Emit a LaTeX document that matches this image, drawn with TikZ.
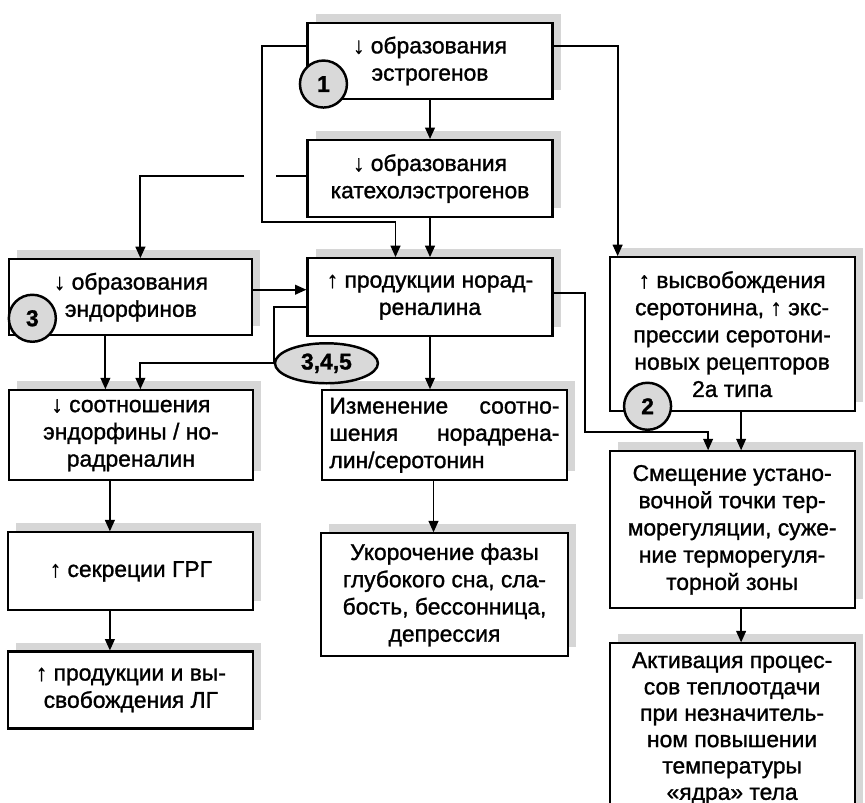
\documentclass[tikz,border=0pt]{standalone}
\usepackage{fontspec}
\setmainfont[FakeBold=1.2]{Liberation Sans}
\usepackage{tikz}
\usetikzlibrary{shapes,arrows,arrows.meta}
\usetikzlibrary{positioning,shadows}
\tikzstyle{block} = [draw, rectangle, fill=white, line width=1.2pt, inner sep=2pt,
    minimum width=4.9cm, align=center, font=\fontsize{13}{15.5}\selectfont,
    drop shadow={shadow xshift=0.16cm, shadow yshift=0.18cm, fill=black!20, opacity=0.8}]
\tikzstyle{num} = [draw, circle, fill=black!15, line width=1.4pt, minimum size=0.94cm,
    inner sep=0pt, font=\fontsize{13}{14}\selectfont\bfseries]
\tikzstyle{oval} = [draw, ellipse, fill=black!15, line width=1.4pt, minimum width=2.06cm,
    minimum height=0.8cm, inner sep=0pt, font=\fontsize{13}{14}\selectfont\bfseries]
\tikzstyle{wire} = [line width=1.1pt]
\tikzstyle{link} = [wire, -{Triangle[length=6.5pt,width=5.5pt]}]

\begin{document}
\begin{tikzpicture}[node distance = 1cm, auto]
  \useasboundingbox (0,0) rectangle (17.3,-16.06);
  \clip (0,0) rectangle (17.3,-16.06);
  \node [block, minimum height=1.52cm] at (8.6,-1.22) (b11) {↓ образования\\эстрогенов};
  \node [block, below=0.78cm of b11, minimum height=1.54cm] (b21) {↓ образования\\катехолэстрогенов};
  \node [block, below=0.78cm of b21, minimum height=1.56cm] (b32) {↑ продукции норад-\\реналина};
  \node [block, left=1.06cm of b32, minimum height=1.52cm, minimum width=4.86cm] (b31) {↓ образования\\эндорфинов};
  \node [block, right=1.1cm of b32, yshift=-0.74cm, minimum height=3.08cm] (b33)
    {↑ высвобождения\\серотонина, ↑ экс-\\прессии серотони-\\новых рецепторов\\2а типа};
  \node [block, below=1.06cm of b31, minimum height=1.8cm, minimum width=4.88cm] (b41)
    {↓ соотношения\\эндорфины / но-\\радреналин};
  \node [block, right=1.34cm of b41, minimum height=1.8cm, text width=4.6cm, align=left] (b42)
    {Изменение\hfill соотно-\\шения\hfill норадрена-\\лин/серотонин};
  \node [block, below=1.0cm of b41, minimum height=1.56cm] (b51) {↑ секреции ГРГ};
  \node [block, below=0.78cm of b51, minimum height=1.54cm] (b61) {↑ продукции и вы-\\свобождения ЛГ};
  \node [block, below=1.02cm of b42, minimum height=2.46cm, minimum width=4.94cm] (b52)
    {Укорочение фазы\\глубокого сна, сла-\\бость, бессонница,\\депрессия};
  \node [block, below=0.76cm of b33, minimum height=3.14cm] (b43)
    {Смещение устано-\\вочной точки тер-\\морегуляции, суже-\\ние терморегуля-\\торной зоны};
  \node [block, below=0.66cm of b43, minimum height=3.4cm, inner ysep=1.5pt,
    font=\fontsize{13}{15}\selectfont] (b53)
    {Активация процес-\\сов теплоотдачи\\при незначитель-\\ном повышении\\температуры\\«ядра» тела};

  \node [num] at ([xshift=0.34cm, yshift=0.32cm]b11.south west) (n1) {1};
  \node [num] at ([xshift=0.78cm, yshift=0.12cm]b33.south west) (n2) {2};
  \node [num] at ([xshift=0.48cm, yshift=0.36cm]b31.south west) (n3) {3};
  \node [oval] at ([xshift=0.4cm, yshift=-0.52cm]b32.south west) (n345) {3,4,5};

  \draw [link] (b11) -- (b21);
  \draw [link] (b21) -- (b32);
  \draw [link] ([yshift=0.3cm]b11.west) -| (5.24,-4.44) -| ([xshift=-0.69cm]b32.north);
  \draw [link] ([yshift=0.3cm]b11.east) -| ([xshift=-2.29cm]b33.north);
  \draw [wire] ([yshift=0.05cm]b21.west) -- ++(-0.6,0);
  \draw [link] ([yshift=0.05cm]b21.west) ++(-1.24,0) -| ([xshift=0.19cm]b31.north);
  \draw [link] ([yshift=0.15cm]b31.east) -- ([yshift=0.15cm]b32.west);
  \draw [wire] ([yshift=-0.2cm]b32.west) -| (n345.west);
  \draw [link] (n345.west) -| ([xshift=0.19cm]b41.north);
  \draw [link] ([xshift=-0.51cm]b31.south) -- ([xshift=-0.51cm]b41.north);
  \draw [link] (b32.south) -- (b32.south |- b42.north);
  \draw [link] ([yshift=0.08cm]b32.east) -| (11.7,-8.64) -| ([xshift=-0.48cm]b43.north);
  \draw [link] ([xshift=0.18cm]b33.south) -- ([xshift=0.18cm]b43.north);
  \draw [link] ([xshift=-0.42cm]b41.south) -- ([xshift=-0.42cm]b51.north);
  \draw [link] ([xshift=-0.42cm]b51.south) -- ([xshift=-0.42cm]b61.north);
  \draw [link] ([xshift=-0.22cm]b42.south) -- ([xshift=-0.22cm]b52.north);
  \draw [link] ([xshift=0.18cm]b43.south) -- ([xshift=0.18cm]b53.north);
\end{tikzpicture}
\end{document}
